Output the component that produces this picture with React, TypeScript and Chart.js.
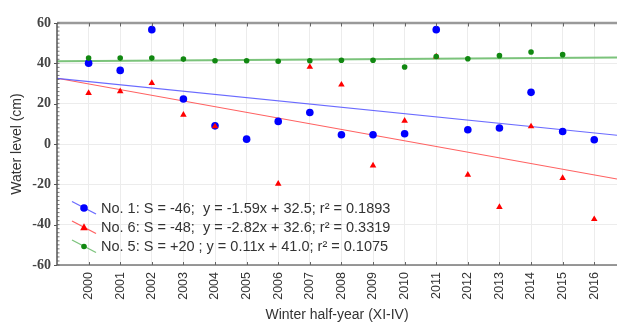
import React, { useEffect, useRef } from 'react';
import { Chart, registerables } from 'chart.js';

Chart.register(...registerables);

// ---- data ----
const years = [2000, 2001, 2002, 2003, 2004, 2005, 2006, 2007, 2008, 2009, 2010, 2011, 2012, 2013, 2014, 2015, 2016];
const no1Values = [40.1, 36.5, 56.7, 22.3, 9.0, 2.4, 11.2, 15.6, 4.6, 4.6, 5.1, 56.7, 7.1, 7.9, 25.6, 6.2, 2.1];
const no6Values = [25.3, 26.1, 30.2, 14.5, 8.7, null, -19.7, 38.2, 29.4, -10.7, 11.5, 43.4, -15.3, -31.3, 8.7, -16.9, -37.3];
const no5Values = [42.6, 42.6, 42.6, 42.1, 41.3, 41.3, 41.0, 41.3, 41.5, 41.5, 38.2, 43.4, 42.3, 43.8, 45.6, 44.3, null];
const fitSlopes = [-1.59, -2.82, 0.11];
const fitIntercepts = [32.5, 32.6, 41.0];
const yTickValues = [-60, -40, -20, 0, 20, 40, 60];
const legendLabels = [
  'No. 1: S = -46;  y = -1.59x + 32.5; r\u00B2 = 0.1893',
  'No. 6: S = -48;  y = -2.82x + 32.6; r\u00B2 = 0.3319',
  'No. 5: S = +20 ; y = 0.11x + 41.0; r\u00B2 = 0.1075',
];
const xTitle = 'Winter half-year (XI-IV)';
const yTitle = 'Water level (cm)';

const X_ORIGIN = 1999;
const X_MAX = 2016.72;

const pointColors = ['#0000ff', '#ff0000', '#118811'];
const lineColors = ['rgba(90,90,255,0.9)', 'rgba(255,80,80,0.9)', 'rgba(100,185,100,0.85)'];
const pointStyles = ['circle', 'triangle', 'circle'];
const pointRadii = [3.8, 3.8, 2.8];
const lineWidths = [1.2, 1.2, 2];

const decorPlugin = {
  id: 'decor',
  afterDraw(chart: any) {
    const ctx = chart.ctx;
    const area = chart.chartArea;
    const xs = chart.scales.x;
    const ys = chart.scales.y;
    ctx.save();
    // top border
    ctx.strokeStyle = '#9a9a9a';
    ctx.lineWidth = 2.5;
    ctx.beginPath();
    ctx.moveTo(area.left, area.top);
    ctx.lineTo(area.right, area.top);
    ctx.stroke();
    // bottom axis
    ctx.strokeStyle = '#777';
    ctx.lineWidth = 1.5;
    ctx.beginPath();
    ctx.moveTo(area.left, area.bottom);
    ctx.lineTo(area.right, area.bottom);
    ctx.stroke();
    // year ticks on top & bottom
    ctx.strokeStyle = '#666';
    ctx.lineWidth = 1;
    years.forEach((yr) => {
      const px = Math.round(xs.getPixelForValue(yr)) + 0.5;
      ctx.beginPath();
      ctx.moveTo(px, area.top);
      ctx.lineTo(px, area.top + 3.5);
      ctx.moveTo(px, area.bottom);
      ctx.lineTo(px, area.bottom - 3);
      ctx.stroke();
    });
    // left axis
    ctx.strokeStyle = '#555';
    ctx.lineWidth = 1.5;
    ctx.beginPath();
    ctx.moveTo(area.left, area.top);
    ctx.lineTo(area.left, area.bottom);
    ctx.stroke();
    ctx.lineWidth = 0.8;
    for (let v = -60; v <= 60; v += 2) {
      const py = ys.getPixelForValue(v);
      ctx.beginPath();
      ctx.moveTo(area.left, py);
      ctx.lineTo(area.left + 2.5, py);
      ctx.stroke();
    }
    ctx.lineWidth = 1;
    yTickValues.forEach((v) => {
      const py = Math.round(ys.getPixelForValue(v)) + 0.5;
      ctx.beginPath();
      ctx.moveTo(area.left - 3, py);
      ctx.lineTo(area.left, py);
      ctx.stroke();
    });
    // legend
    ctx.font = '14.5px "Liberation Sans", Arial, sans-serif';
    ctx.textBaseline = 'middle';
    ctx.textAlign = 'left';
    const rowY = [208, 227.5, 246.5];
    legendLabels.forEach((label, i) => {
      const cy = rowY[i];
      ctx.strokeStyle = lineColors[i];
      ctx.lineWidth = 1.3;
      ctx.beginPath();
      ctx.moveTo(72, cy - 6.5);
      ctx.lineTo(96, cy + 6);
      ctx.stroke();
      ctx.fillStyle = pointColors[i];
      const mx = 84, my = cy;
      if (pointStyles[i] === 'triangle') {
        const r = pointRadii[i];
        ctx.beginPath();
        ctx.moveTo(mx, my - r * 1.1);
        ctx.lineTo(mx + r, my + r * 0.7);
        ctx.lineTo(mx - r, my + r * 0.7);
        ctx.closePath();
        ctx.fill();
      } else {
        ctx.beginPath();
        ctx.arc(mx, my, pointRadii[i], 0, Math.PI * 2);
        ctx.fill();
      }
      ctx.fillStyle = '#333';
      ctx.fillText(label, 101, cy + 0.5);
    });
    // x title
    ctx.font = '14px "Liberation Sans", Arial, sans-serif';
    ctx.textAlign = 'center';
    ctx.fillStyle = '#333';
    ctx.fillText(xTitle, (area.left + area.right) / 2, 315);
    ctx.restore();
  },
};

export default function App() {
  const canvasRef = useRef<HTMLCanvasElement | null>(null);

  useEffect(() => {
    document.body.style.margin = '0';
    const canvas = canvasRef.current;
    if (!canvas) return;

    const fitLine = (i: number) => [
      { x: X_ORIGIN, y: fitIntercepts[i] },
      { x: X_MAX, y: fitIntercepts[i] + fitSlopes[i] * (X_MAX - X_ORIGIN) },
    ];
    const pts = (vals: (number | null)[]) =>
      years.map((yr, i) => ({ x: yr, y: vals[i] })).filter((p) => p.y !== null);

    const seriesVals = [no1Values, no6Values, no5Values];
    const pointOrders = [2, 1, 0];

    const datasets: any[] = [];
    [0, 1, 2].forEach((i) => {
      datasets.push({
        type: 'line',
        data: fitLine(i),
        borderColor: lineColors[i],
        borderWidth: lineWidths[i],
        pointRadius: 0,
        fill: false,
        order: 5 + i,
      });
    });
    [0, 1, 2].forEach((i) => {
      datasets.push({
        type: 'scatter',
        data: pts(seriesVals[i]),
        backgroundColor: pointColors[i],
        borderColor: pointColors[i],
        borderWidth: 0,
        pointStyle: pointStyles[i],
        pointRadius: pointRadii[i],
        order: pointOrders[i],
      });
    });

    const chart = new Chart(canvas, {
      type: 'scatter',
      data: { datasets },
      options: {
        animation: false,
        responsive: false,
        devicePixelRatio: 1,
        layout: { padding: { top: 23, left: 0, right: 0, bottom: 0 } },
        plugins: { legend: { display: false }, tooltip: { enabled: false } },
        scales: {
          x: {
            type: 'linear',
            min: X_ORIGIN,
            max: X_MAX,
            afterBuildTicks: (scale: any) => {
              scale.ticks = years.map((v) => ({ value: v }));
            },
            afterFit: (scale: any) => {
              scale.height = 60;
            },
            ticks: {
              autoSkip: false,
              minRotation: 90,
              maxRotation: 90,
              padding: 7,
              color: '#333',
              font: { family: '"Liberation Sans", Arial, sans-serif', size: 12.5 },
              callback: (v: any) => String(v),
            },
            grid: { color: '#ececec', lineWidth: 1, drawTicks: false },
            border: { display: false },
          },
          y: {
            type: 'linear',
            min: -60,
            max: 60,
            afterBuildTicks: (scale: any) => {
              scale.ticks = yTickValues.map((v) => ({ value: v }));
            },
            afterFit: (scale: any) => {
              scale.width = 57;
            },
            ticks: {
              padding: 6,
              color: '#444',
              font: { family: '"Liberation Serif", "Times New Roman", serif', size: 14, weight: 'bold' },
              callback: (v: any) => String(v),
            },
            grid: { color: '#ececec', lineWidth: 1, drawTicks: false },
            border: { display: false },
            title: {
              display: true,
              text: yTitle,
              color: '#333',
              font: { family: '"Liberation Sans", Arial, sans-serif', size: 14 },
              padding: { top: 9, bottom: 0 },
            },
          },
        },
      },
      plugins: [decorPlugin],
    } as any);

    return () => chart.destroy();
  }, []);

  return (
    <div style={{ position: 'relative', width: 621, height: 325 }}>
      <canvas ref={canvasRef} width={621} height={325} style={{ display: 'block', width: 621, height: 325 }} />
    </div>
  );
}
